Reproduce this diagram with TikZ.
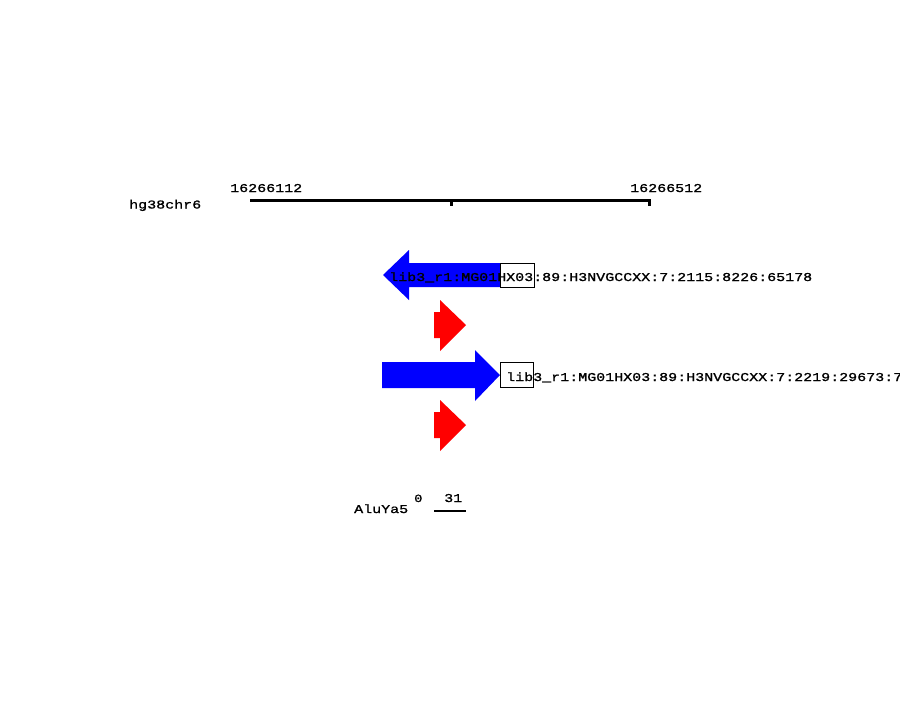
\documentclass[tikz,border=0pt]{standalone}
\usepackage{fontspec}
\newfontfamily\lblfont[FakeStretch=1.25,FakeBold=1.2]{Liberation Mono}
\begin{document}
\begin{tikzpicture}[x=1pt,y=-1pt,
  lbl/.style={font=\lblfont\fontsize{12}{14}\selectfont, inner sep=0pt, anchor=base west},
  smalllbl/.style={font=\lblfont\fontsize{11}{13}\selectfont, inner sep=0pt, anchor=base west},
  ruler/.style={line width=3pt},
  fwd/.style={fill=blue, draw=none},
  rev/.style={fill=blue, draw=none},
  hit/.style={fill=red, draw=none},
  idbox/.style={draw=black, line width=1pt}]
\useasboundingbox[fill=white] (0,0) rectangle (900,710);

% coordinate ruler
\coordinate (rstart) at (250,200);
\coordinate (rmid) at (451,200);
\coordinate (rend) at (651,200);
\draw[ruler] (rstart) -- (rend);
\draw[ruler] (rmid) -- ++(0,5.5);
\draw[ruler] ([xshift=-1.5pt]rend) -- ++(0,5.5);
\node[lbl] (chrom) at (129,208.5) {hg38chr6};
\node[lbl] (startpos) at (230,192) {16266112};
\node[lbl] (endpos) at (630,192) {16266512};

% read on the reverse strand
\fill[rev] (500,263) -- (409,263) -- (409,250) -- (383,275) -- (409,300) -- (409,287) -- (500,287) -- cycle;
\draw[idbox] (500,263) rectangle (534,287);
\node[lbl] (read1) at (389,281) {lib3\_r1:MG01HX03:89:H3NVGCCXX:7:2115:8226:65178};

% alignment mark
\fill[hit] (434,312) -- (440,312) -- (440,300) -- (466,325) -- (440,351) -- (440,338) -- (434,338) -- cycle;

% read on the forward strand
\fill[fwd] (382,362) -- (475,362) -- (475,350) -- (500,375) -- (475,401) -- (475,388) -- (382,388) -- cycle;
\draw[idbox] (500,362) rectangle (533,387);
\node[lbl] (read2) at (506,381) {lib3\_r1:MG01HX03:89:H3NVGCCXX:7:2219:29673:7};

% alignment mark
\fill[hit] (434,412) -- (440,412) -- (440,400) -- (466,425) -- (440,451) -- (440,438) -- (434,438) -- cycle;

% repeat element track
\node[lbl] (repeat) at (354,513) {AluYa5};
\node[smalllbl] (rstartlbl) at (414,502) {0};
\node[lbl] (rendlbl) at (444,502) {31};
\coordinate (segA) at (434,511);
\coordinate (segB) at (466,511);
\draw[line width=2.5pt] (segA) -- (segB);
\end{tikzpicture}
\end{document}
